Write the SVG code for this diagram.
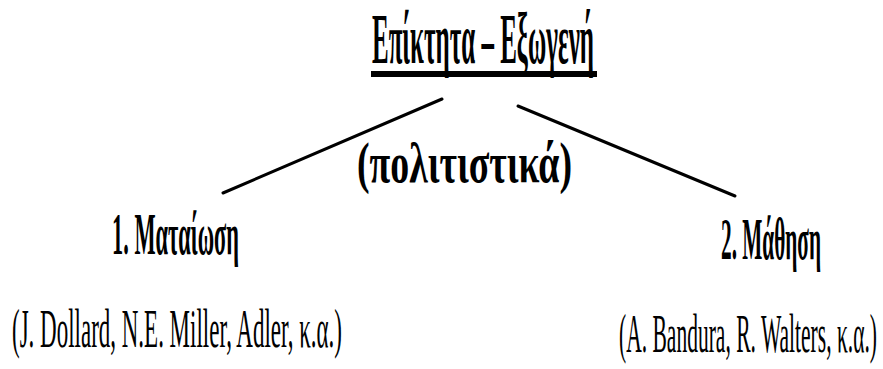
<svg xmlns="http://www.w3.org/2000/svg" width="883" height="369" viewBox="0 0 883 369">
<style>
.c{font-family:"Liberation Serif","Times New Roman",serif;fill:#000}
.b{font-weight:bold}
.ln{stroke:#000;stroke-width:3;fill:none;stroke-linecap:round}
</style>
<rect width="883" height="369" fill="#fff"/>
<g id="title">
<text class="c b" x="372" y="63" font-size="72" textLength="222" lengthAdjust="spacingAndGlyphs">Επίκτητα – Εξωγενή</text>
<rect x="371" y="71" width="226" height="6" fill="#000"/>
</g>
<g id="connectors">
<line class="ln" x1="223" y1="193" x2="442" y2="99"/>
<line class="ln" x1="518" y1="106" x2="735" y2="196"/>
</g>
<g id="label-cultural">
<text class="c b" x="357" y="182" font-size="56" textLength="215" lengthAdjust="spacingAndGlyphs">(πολιτιστικά)</text>
</g>
<g id="node-frustration">
<text class="c b" x="112" y="254" font-size="60" textLength="127" lengthAdjust="spacingAndGlyphs">1. Ματαίωση</text>
<text class="c" x="12" y="347" font-size="55" textLength="330" lengthAdjust="spacingAndGlyphs">(J. Dollard, N.E. Miller, Adler, κ.α.)</text>
</g>
<g id="node-learning">
<text class="c b" x="721" y="259" font-size="60" textLength="100" lengthAdjust="spacingAndGlyphs">2. Μάθηση</text>
<text class="c" x="619" y="352" font-size="55" textLength="258" lengthAdjust="spacingAndGlyphs">(A. Bandura, R. Walters, κ.α.)</text>
</g>
</svg>
